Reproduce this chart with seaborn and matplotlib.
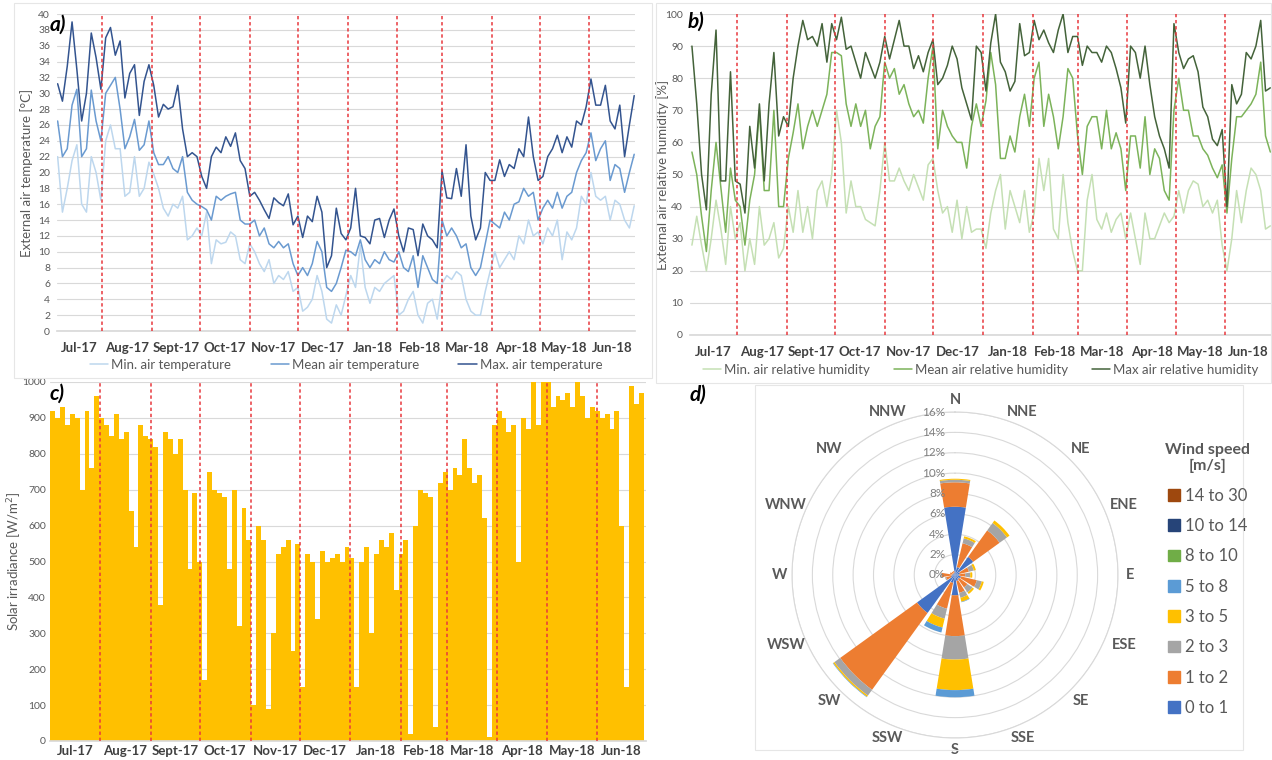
import numpy as np
import pandas as pd
import seaborn as sns
import matplotlib.pyplot as plt
from matplotlib.patches import Patch, Rectangle

sns.set_theme(style='white')
plt.rcParams['font.family'] = ['Lato', 'DejaVu Sans']

# day 0 = 1 Jul 2017, readings every 3 days
days = list(range(3, 364, 3))

t_min = [22, 15, 18, 21.5, 23.5, 16, 15, 22, 20, 16.5,
         24, 26, 23, 23, 17, 17.5, 22, 17, 18, 21.3,
         19.8, 18, 15.5, 14.5, 16, 15.5, 17, 11.5, 12, 13,
         12, 15, 8.5, 11.5, 11, 11.2, 12.5, 12, 9, 8.5,
         11, 10, 8.5, 7.5, 9, 6, 7, 6.5, 7.5, 5,
         5.5, 2.5, 3, 4, 7, 5, 1.5, 1, 3.3, 2,
         4.5, 7, 5.5, 10.8, 5.5, 3.5, 5.5, 5, 6, 6.5,
         7, 2, 2.5, 4, 5, 2, 1, 3.5, 4, 1.5,
         6, 7, 6.5, 7.5, 7, 4, 2.5, 2, 2, 5,
         7.5, 10, 8, 9, 10, 9, 12, 11, 14, 12,
         12.5, 11, 13, 12, 14, 9, 12.5, 11.5, 13, 17,
         16, 20, 17, 16.5, 17, 14, 16.5, 16, 14, 13,
         15.8]
t_mean = [26.5, 22, 23, 28.5, 30.5, 22, 23, 30.4, 26.5, 24,
          30, 31, 32, 28, 23, 24.5, 26.7, 22.8, 23.5, 26.5,
          22.5, 21, 21, 22, 20.5, 20, 22, 17.5, 16.5, 16,
          15.7, 15.3, 14, 17, 16.5, 17, 17.3, 17.5, 14, 13.5,
          13.5, 14, 12, 13, 11, 10.5, 11.3, 10.5, 11, 8.5,
          7, 8, 7, 8.5, 11.3, 10, 5.5, 5, 6, 8,
          10.2, 10, 9.5, 11.5, 9, 8, 9, 8.5, 10, 9,
          8.7, 10, 8, 7.5, 9.5, 5.5, 9.5, 8, 6.5, 6,
          14, 12, 13, 12, 10.5, 11, 8, 7, 8, 11,
          14, 13.5, 13, 15, 14, 16, 16.3, 18, 17, 17.5,
          14, 15.5, 16.5, 15.5, 17.5, 15.5, 17, 17.5, 20, 21.5,
          22.5, 25, 21.5, 23, 24, 19, 21, 20.5, 17.5, 20,
          22.3]
t_max = [31.2, 29, 33.4, 39, 33, 26.5, 30, 37.6, 34.5, 30.5,
         37, 38.3, 34.8, 36.6, 29.4, 32.5, 33.6, 27.2, 31.5, 33.6,
         31, 27, 28.6, 28, 28.3, 31, 25.5, 22, 22.5, 22,
         19.5, 18, 22, 23.2, 22.5, 24.5, 23.3, 25, 21.5, 20.5,
         17, 17.5, 16.5, 15.3, 14.2, 16.8, 16.2, 15.8, 17.3, 13.4,
         14.5, 11.8, 14.5, 13.8, 17, 15, 8, 9.5, 15.5, 12.3,
         11.5, 13, 18, 12, 11.8, 11, 14, 14.2, 11.8, 14,
         15.4, 12, 10, 13, 12.8, 9.5, 13.5, 12, 11.5, 10.5,
         20.2, 16.8, 16.7, 20.5, 17, 23.5, 14.5, 11.5, 13, 20,
         19, 19, 21.6, 19.5, 21, 20.5, 23, 22, 27, 22,
         19, 19.5, 22, 23, 24.7, 22.5, 24.5, 23.2, 26.5, 26,
         28.3, 31.8, 28.5, 28.5, 31, 26.5, 25.5, 28.5, 22, 26,
         29.7]

rh_min = [28, 37, 28, 20, 30, 42, 33, 22, 40, 30,
          35, 20, 30, 22, 40, 28, 30, 35, 24, 27,
          40, 32, 45, 32, 40, 30, 45, 48, 40, 50,
          70, 60, 38, 48, 40, 40, 36, 35, 34, 45,
          60, 48, 48, 52, 48, 45, 50, 46, 42, 53,
          55, 45, 38, 40, 32, 42, 30, 40, 32, 33,
          33, 27, 38, 45, 50, 33, 45, 40, 35, 45,
          32, 38, 55, 45, 55, 33, 30, 50, 35, 26,
          20, 20, 42, 50, 36, 33, 38, 32, 36, 38,
          30, 38, 30, 22, 38, 30, 30, 34, 38, 35,
          37, 45, 38, 45, 48, 47, 40, 42, 38, 42,
          28, 20, 30, 45, 35, 45, 52, 50, 45, 33,
          34]
rh_mean = [57, 50, 37, 26, 45, 60, 46, 32, 52, 42,
           40, 28, 42, 50, 70, 45, 45, 70, 40, 40,
           55, 63, 72, 58, 65, 70, 65, 70, 75, 88,
           88, 87, 72, 65, 72, 65, 70, 58, 65, 68,
           85, 80, 83, 75, 78, 72, 68, 70, 66, 80,
           90, 58, 70, 65, 62, 60, 60, 52, 65, 72,
           65, 73, 88, 78, 55, 55, 62, 57, 68, 75,
           65, 80, 85, 65, 75, 68, 58, 68, 83, 80,
           62, 50, 65, 68, 68, 58, 70, 58, 63, 58,
           45, 62, 62, 52, 68, 50, 58, 55, 45, 42,
           70, 80, 70, 70, 62, 62, 58, 56, 52, 49,
           53, 38, 55, 68, 68, 70, 72, 75, 85, 62,
           57]
rh_max = [90, 72, 50, 39, 75, 95, 48, 48, 82, 48,
          47, 38, 65, 52, 72, 48, 72, 88, 62, 68,
          65, 80, 90, 98, 92, 93, 90, 97, 85, 97,
          92, 99, 89, 90, 85, 80, 88, 84, 80, 85,
          93, 86, 92, 98, 90, 90, 83, 87, 82, 88,
          92, 78, 80, 84, 90, 86, 77, 72, 67, 90,
          88, 76, 91, 100, 85, 82, 76, 79, 97, 87,
          88, 98, 92, 95, 91, 88, 95, 100, 88, 93,
          93, 84, 90, 88, 88, 85, 90, 88, 83, 77,
          66, 90, 88, 80, 90, 78, 68, 62, 58, 52,
          97, 88, 83, 86, 87, 82, 71, 68, 61, 59,
          64, 40, 78, 72, 75, 88, 86, 90, 98, 76,
          77]

sun_days = list(range(2, 363, 3))
sun = [920, 900, 930, 880, 910, 900, 700, 920, 760, 960,
       900, 880, 850, 910, 840, 860, 640, 540, 880, 850,
       840, 820, 380, 860, 840, 800, 840, 700, 480, 690,
       500, 170, 750, 700, 690, 680, 480, 700, 320, 650,
       560, 100, 600, 560, 90, 300, 520, 540, 560, 250,
       550, 150, 520, 500, 340, 530, 500, 510, 520, 500,
       540, 510, 150, 500, 540, 300, 520, 560, 540, 580,
       420, 520, 560, 20, 600, 700, 690, 680, 40, 720,
       750, 700, 760, 740, 840, 760, 720, 740, 620, 10,
       880, 920, 900, 860, 880, 500, 900, 870, 1000, 880,
       1000, 1000, 930, 960, 950, 970, 930, 1000, 960, 900,
       930, 920, 900, 910, 870, 920, 600, 150, 990, 940,
       970]

months = ['Jul-17', 'Aug-17', 'Sept-17', 'Oct-17', 'Nov-17', 'Dec-17',
          'Jan-18', 'Feb-18', 'Mar-18', 'Apr-18', 'May-18', 'Jun-18']
month_start = [0, 31, 62, 92, 123, 153, 184, 215, 243, 274, 304, 335, 365]

# wind rose, % of time per direction and speed class
directions = ['N', 'NNE', 'NE', 'ENE', 'E', 'ESE', 'SE', 'SSE',
              'S', 'SSW', 'SW', 'WSW', 'W', 'WNW', 'NW', 'NNW']
speed_classes = ['0 to 1', '1 to 2', '2 to 3', '3 to 5', '5 to 8', '8 to 10', '10 to 14', '14 to 30']
ws_0_1 = [6.7, 0.8, 2.2, 0.5, 0.4, 0.6, 0.5, 0.6, 2.0, 0.8, 4.6, 0.4, 0.3, 0.2, 0.2, 0.2]
ws_1_2 = [2.4, 2.4, 3.2, 0.9, 0.6, 1.6, 1.0, 1.2, 4.0, 2.6, 9.3, 0.5, 1.0, 0.3, 0.2, 0.2]
ws_2_3 = [0.25, 0.5, 0.9, 0.5, 0.5, 0.5, 0.6, 0.5, 2.3, 1.0, 0.7, 0.1, 0.1, 0.0, 0.0, 0.0]
ws_3_5 = [0.1, 0.2, 0.3, 0.2, 0.2, 0.2, 0.2, 0.4, 3.0, 0.9, 0.15, 0.0, 0.0, 0.0, 0.0, 0.0]
ws_5_8 = [0.0, 0.0, 0.0, 0.0, 0.0, 0.0, 0.0, 0.05, 0.7, 0.5, 0.05, 0.0, 0.0, 0.0, 0.0, 0.0]
ws_8_10 = [0.0] * 16
ws_10_14 = [0.0] * 16
ws_14_30 = [0.0] * 16
wind_colors = ['#4472C4', '#ED7D31', '#A5A5A5', '#FFC000', '#5B9BD5', '#70AD47', '#264478', '#9E480E']

grey = '#595959'
grid_c = '#D9D9D9'
red = '#E8383D'

fig = plt.figure(figsize=(12.72, 7.6), dpi=100)
W, H = 1272, 760


def box(x0, y0, x1, y1):
    return [x0 / W, 1 - y1 / H, (x1 - x0) / W, (y1 - y0) / H]


def month_axis(ax, lo, hi, pad):
    ax.set_xlim(lo, hi)
    for d in month_start[1:-1]:
        ax.axvline(d, color=red, lw=1.1, ls=(0, (2.2, 1.8)), zorder=4)
    edges = [lo] + month_start[1:-1] + [hi]
    centers = [(edges[i] + edges[i + 1]) / 2 for i in range(12)]
    ax.set_xticks(centers)
    ax.set_xticklabels(months, fontweight='bold', fontsize=9.5, color='#404040')
    ax.tick_params(axis='x', length=0, pad=pad)
    ax.tick_params(axis='y', length=0, pad=5, labelsize=7.5, labelcolor=grey)
    ax.grid(axis='y', color=grid_c, lw=0.8)
    ax.grid(axis='x', visible=False)
    for s in ['top', 'right', 'left']:
        ax.spines[s].set_visible(False)
    ax.spines['bottom'].set_color(grid_c)
    ax.set_xlabel('')


# frames of the chart areas
for (x0, y0, x1, y1) in [(14, 3, 652, 378), (656, 3, 1271, 383), (755, 385, 1243, 750)]:
    fig.add_artist(Rectangle((x0 / W, 1 - y1 / H), (x1 - x0) / W, (y1 - y0) / H,
                             transform=fig.transFigure, fill=False, ec='#E6E6E6', lw=0.8))

# a) temperature
ax = fig.add_axes(box(57, 14, 635, 331))
temp = pd.DataFrame({'day': days, 'min': t_min, 'mean': t_mean, 'max': t_max})
sns.lineplot(data=temp, x='day', y='min', color='#BDD7EE', lw=1.1, ax=ax, label='Min. air temperature')
sns.lineplot(data=temp, x='day', y='mean', color='#6A9AD0', lw=1.1, ax=ax, label='Mean air temperature')
sns.lineplot(data=temp, x='day', y='max', color='#33548F', lw=1.1, ax=ax, label='Max. air temperature')
ax.set_ylim(0, 40)
ax.set_yticks(range(0, 41, 2))
month_axis(ax, 2.6, 363.5, 8)
ax.set_ylabel('External air temperature [°C]', fontsize=9.5, color=grey)
ax.yaxis.set_label_coords(-0.052, 0.5)
ax.yaxis.label.set_va('center')
ax.legend(loc='center', bbox_to_anchor=(0.5, -0.107), ncol=3, frameon=False, fontsize=9.5,
          labelcolor=grey, handlelength=1.4, handletextpad=0.2, columnspacing=3.0)

# b) relative humidity
ax = fig.add_axes(box(690, 14, 1271, 335))
hum = pd.DataFrame({'day': days, 'min': rh_min, 'mean': rh_mean, 'max': rh_max})
sns.lineplot(data=hum, x='day', y='min', color='#C5E0B4', lw=1.1, ax=ax, label='Min. air relative humidity')
sns.lineplot(data=hum, x='day', y='mean', color='#7CB35A', lw=1.1, ax=ax, label='Mean air relative humidity')
sns.lineplot(data=hum, x='day', y='max', color='#44633A', lw=1.1, ax=ax, label='Max air relative humidity')
ax.set_ylim(0, 100)
ax.set_yticks(range(0, 101, 10))
month_axis(ax, 1.8, 363.4, 8)
ax.set_ylabel('External air relative humidity [%]', fontsize=9.5, color=grey)
ax.yaxis.set_label_coords(-0.0465, 0.5)
ax.yaxis.label.set_va('center')
ax.legend(loc='center', bbox_to_anchor=(0.5, -0.109), ncol=3, frameon=False, fontsize=9.5,
          labelcolor=grey, handlelength=1.4, handletextpad=0.2, columnspacing=1.8)

# c) solar irradiance
ax = fig.add_axes(box(50, 382, 646, 741))
solar = pd.DataFrame({'day': sun_days, 'irr': sun})
sns.barplot(data=solar, x='day', y='irr', native_scale=True, color='#FFC000', saturation=1,
            width=1.0, linewidth=0, errorbar=None, ax=ax)
ax.set_ylim(0, 1000)
ax.set_yticks(range(0, 1001, 100))
month_axis(ax, 0.4, 364.8, 3)
ax.tick_params(axis='y', pad=3)
ax.set_ylabel('Solar irradiance [W/m$^2$]', fontsize=9.5, color=grey)
ax.yaxis.set_label_coords(-0.06, 0.5)
ax.yaxis.label.set_va('center')

# d) wind rose
axd = fig.add_axes(box(955 - 163, 575 - 163, 955 + 163, 575 + 163), projection='polar')
axd.set_theta_zero_location('N')
axd.set_theta_direction(-1)
theta = np.deg2rad(np.arange(16) * 22.5)
bottom = np.zeros(16)
for vals, col in zip([ws_0_1, ws_1_2, ws_2_3, ws_3_5, ws_5_8, ws_8_10, ws_10_14, ws_14_30], wind_colors):
    axd.bar(theta, vals, width=0.32, bottom=bottom, color=col, linewidth=0, zorder=3)
    bottom = bottom + np.array(vals)
axd.set_ylim(0, 16)
axd.set_rgrids(range(2, 17, 2), labels=[])
axd.set_xticks(theta)
axd.set_xticklabels([])
axd.xaxis.grid(False)
axd.yaxis.grid(True, color=grid_c, lw=0.8)
axd.spines['polar'].set_color(grid_c)
axd.spines['polar'].set_linewidth(0.8)
axd.set_facecolor('none')
for r in range(0, 17, 2):
    axd.annotate(f'{r}%', xy=(0, r), xytext=(-7, 0), textcoords='offset points',
                 ha='right', va='center', fontsize=8.5, color='#7F7F7F', zorder=5)
for t, name in zip(theta, directions):
    rr = 17.2 + 0.45 * (len(name) - 1) * np.sin(t) ** 2
    axd.text(t, rr, name, ha='center', va='center', fontsize=10.5, fontweight='bold',
             color=grey, clip_on=False)

handles = [Patch(color=c) for c in wind_colors][::-1]
leg = fig.legend(handles, speed_classes[::-1], loc='upper left', bbox_to_anchor=(1150 / W, 1 - 428 / H),
                 frameon=False, fontsize=12, labelcolor=grey, handlelength=0.7, handleheight=0.7,
                 handletextpad=0.3, labelspacing=0.86, title='Wind speed\n[m/s]',
                 title_fontproperties={'weight': 'bold', 'size': 11.5})
leg.get_title().set_color(grey)
leg.get_title().set_ha('center')

# panel letters
for x, y, s in [(50, 25, 'a)'), (688, 22, 'b)'), (50, 394, 'c)'), (690, 395, 'd)')]:
    fig.text(x / W, 1 - y / H, s, fontsize=15, fontweight='bold', fontstyle='italic',
             va='center', ha='left', color='black')

fig.savefig('out.png', dpi=100)
